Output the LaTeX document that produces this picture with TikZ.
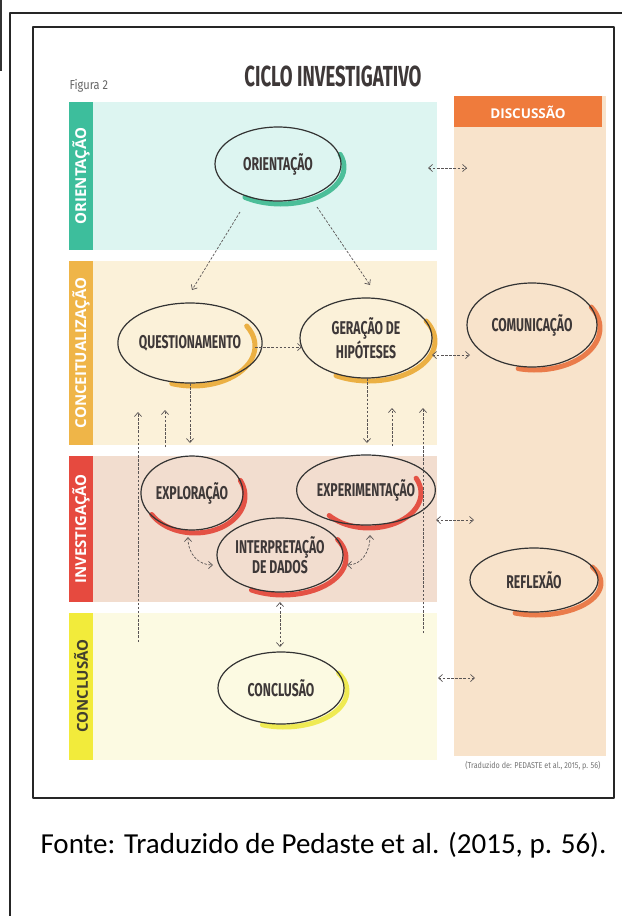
\documentclass[tikz,border=0pt]{standalone}
\usepackage{fontspec}
\setmainfont{Open Sans}
\newfontfamily\handfont[FakeStretch=0.66]{Fira Sans}
\newfontfamily\titlefont[FakeStretch=0.64]{Fira Sans}
\newfontfamily\smallfont[FakeStretch=0.85]{Fira Sans}
\newfontfamily\fontefont{Carlito}
\usepackage{xcolor}
\usetikzlibrary{shapes.geometric,arrows.meta}
\definecolor{orientbg}{HTML}{DDF5F1}
\definecolor{orientstrip}{HTML}{3DBE9C}
\definecolor{concbg}{HTML}{FBF1D9}
\definecolor{concstrip}{HTML}{EFB548}
\definecolor{invbg}{HTML}{F2DDCF}
\definecolor{invstrip}{HTML}{E64A3F}
\definecolor{conclbg}{HTML}{FCFAE2}
\definecolor{conclstrip}{HTML}{F2EB3B}
\definecolor{discbg}{HTML}{F8E3CB}
\definecolor{dischead}{HTML}{EF7B3C}
\definecolor{hlgreen}{HTML}{33B58A}
\definecolor{hlorange}{HTML}{E9A52A}
\definecolor{hlred}{HTML}{E23A2E}
\definecolor{hldisc}{HTML}{E86A35}
\definecolor{hlyellow}{HTML}{EDE83A}
\definecolor{inkgray}{HTML}{3E3838}
\definecolor{arrgray}{HTML}{5A5555}

\begin{document}
\begin{tikzpicture}[x=1pt,y=-1pt,>={Straight Barb[length=4pt,width=7pt]},line join=bevel,
  elli/.style={draw=black!80,fill=none,line width=1.2pt,ellipse,inner sep=0pt,text=inkgray,align=center,
    font=\handfont\bfseries\fontsize{18.5}{20}\selectfont},
  dasharr/.style={draw=arrgray,line width=0.7pt,dash pattern=on 2.5pt off 1.6pt},
  hl/.style={line width=5pt,line cap=round,opacity=0.85},
  strip/.style={rotate=90,text=white,font=\bfseries\fontsize{15}{15}\selectfont}]
\useasboundingbox (0,0) rectangle (622,916);
\fill[white] (0,0) rectangle (622,916);
%% frames
\draw[line width=1.3pt,black!80] (1,0) -- (1,71);
\draw[line width=1.3pt,black!85] (10,916) -- (10,13) -- (622,13);
\draw[line width=1.3pt,black!85] (33,27) rectangle (614,798);
%% bands
\fill[orientbg] (93,102) rectangle (437,250);
\fill[orientstrip] (69,102) rectangle (93,250);
\fill[concbg] (93,261) rectangle (437,445);
\fill[concstrip] (69,261) rectangle (93,445);
\fill[invbg] (93,456) rectangle (437,602);
\fill[invstrip] (69,456) rectangle (93,602);
\fill[conclbg] (93,613) rectangle (437,760);
\fill[conclstrip] (69,613) rectangle (93,760);
\fill[discbg] (454,96) rectangle (606,756);
\fill[dischead] (454,96) rectangle (602,127);
\node (s1) at (81,176) [strip] {ORIENTAÇÃO};
\node (s2) at (81,353) [strip] {CONCEITUALIZAÇÃO};
\node (s3) at (81,529) [strip] {INVESTIGAÇÃO};
\node (s4) at (81,686) [strip,text=black!70!olive] {CONCLUSÃO};
\node (dh) at (528,112) [text=white,font=\bfseries\fontsize{13.5}{13.5}\selectfont] {DISCUSSÃO};
\node (title) at (333,76) [text=inkgray,font=\titlefont\bfseries\fontsize{29}{29}\selectfont] {CICLO INVESTIGATIVO};
\node (fig) at (66,86) [anchor=west,text=black!60,font=\smallfont\fontsize{13}{13}\selectfont] {Figura 2};
%% highlights
\draw[hl,hlgreen] ([shift={(3,3)}]278,164) ++(-20:63 and 37) arc[start angle=-20,end angle=125,x radius=63,y radius=37];
\draw[hl,hlorange] ([shift={(3,3)}]190,343) ++(-30:62 and 40) arc[start angle=-30,end angle=110,x radius=62,y radius=40];
\draw[hl,hlorange] ([shift={(3,3)}]366,338) ++(-30:66 and 40) arc[start angle=-30,end angle=120,x radius=66,y radius=40];
\draw[hl,hldisc] ([shift={(3,3)}]532,325) ++(-30:65 and 42) arc[start angle=-30,end angle=105,x radius=65,y radius=42];
\draw[hl,hlred] ([shift={(3,3)}]192,493) ++(-25:50 and 37) arc[start angle=-25,end angle=150,x radius=50,y radius=37];
\draw[hl,hlred] ([shift={(3,3)}]366,490) ++(-25:52 and 35) arc[start angle=-25,end angle=140,x radius=52,y radius=35];
\draw[hl,hlred] ([shift={(3,3)}]280,555) ++(-30:63 and 37) arc[start angle=-30,end angle=120,x radius=63,y radius=37];
\draw[hl,hldisc] ([shift={(3,3)}]534,580) ++(-30:64 and 32) arc[start angle=-30,end angle=110,x radius=64,y radius=32];
\draw[hl,hlyellow] ([shift={(3,3)}]281,688) ++(-30:63 and 36) arc[start angle=-30,end angle=110,x radius=63,y radius=36];
%% stages
\node (orient) at (278,164) [elli,minimum width=126pt,minimum height=74pt] {ORIENTAÇÃO};
\node (quest) at (190,343) [elli,minimum width=124pt,minimum height=80pt] {QUESTIONAMENTO};
\node (gerac) at (366,338) [elli,minimum width=132pt,minimum height=80pt] {GERAÇÃO DE\\HIPÓTESES};
\node (comun) at (532,325) [elli,minimum width=130pt,minimum height=84pt] {COMUNICAÇÃO};
\node (explo) at (192,493) [elli,minimum width=100pt,minimum height=74pt] {EXPLORAÇÃO};
\node (exper) at (366,490) [elli,minimum width=104pt,minimum height=70pt] {EXPERIMENTAÇÃO};
\node (interp) at (280,555) [elli,minimum width=126pt,minimum height=74pt] {INTERPRETAÇÃO\\DE DADOS};
\node (reflex) at (534,580) [elli,minimum width=128pt,minimum height=64pt] {REFLEXÃO};
\node (concl) at (281,688) [elli,minimum width=126pt,minimum height=72pt] {CONCLUSÃO};
\coordinate (o1) at (428,168);
\coordinate (d1) at (467,168);
\coordinate (o3) at (436,520);
\coordinate (d3) at (474,520);
\coordinate (o4) at (438,678);
\coordinate (d4) at (475,678);
\coordinate (l1) at (138,642);
\coordinate (r1) at (423,633);
%% links
\draw[dasharr,->] ([shift={(-38,48)}]orient.center) -- ([shift={(2,-53)}]quest.center);
\draw[dasharr,->] ([shift={(39,43)}]orient.center) -- ([shift={(4,-53)}]gerac.center);
\draw[dasharr,->] ([shift={(65,4)}]quest.center) -- ([shift={(-64,9)}]gerac.center);
\draw[dasharr,<->] ([shift={(66,17)}]gerac.center) -- ([shift={(-62,30)}]comun.center);
\draw[dasharr,<->] (o1) -- (d1);
\draw[dasharr,<->] (o3) -- (d3);
\draw[dasharr,<->] (o4) -- (d4);
\draw[dasharr,->] ([shift={(0,40)}]quest.center) -- ([shift={(-2,-50)}]explo.center);
\draw[dasharr,->] ([shift={(1,40)}]gerac.center) -- ([shift={(1,-47)}]exper.center);
\draw[dasharr,->] ([shift={(-27,-46)}]explo.center) -- ([shift={(-25,67)}]quest.center);
\draw[dasharr,->] (l1) -- ([shift={(-52,69)}]quest.center);
\draw[dasharr,->] ([shift={(26,-44)}]exper.center) -- ([shift={(26,70)}]gerac.center);
\draw[dasharr,->] (r1) -- ([shift={(57,70)}]gerac.center);
\draw[dasharr,<->] ([shift={(-4,44)}]explo.center) .. controls +(0,18) and +(-14,0) .. ([shift={(-67,10)}]interp.center);
\draw[dasharr,<->] ([shift={(4,45)}]exper.center) .. controls +(0,18) and +(14,0) .. ([shift={(67,10)}]interp.center);
\draw[dasharr,<->] ([shift={(0,47)}]interp.center) -- ([shift={(-1,-41)}]concl.center);
%
\node (trad) at (604,766) [anchor=east,text=black!55,font=\smallfont\fontsize{8.5}{9}\selectfont] {(Traduzido de: PEDASTE et al., 2015, p. 56)};
\node (fonte) at (37,853) [anchor=base west,font=\fontefont\fontsize{29}{31}\selectfont] {Fonte: Traduzido de Pedaste et al. (2015, p. 56).};
\end{tikzpicture}
\end{document}
